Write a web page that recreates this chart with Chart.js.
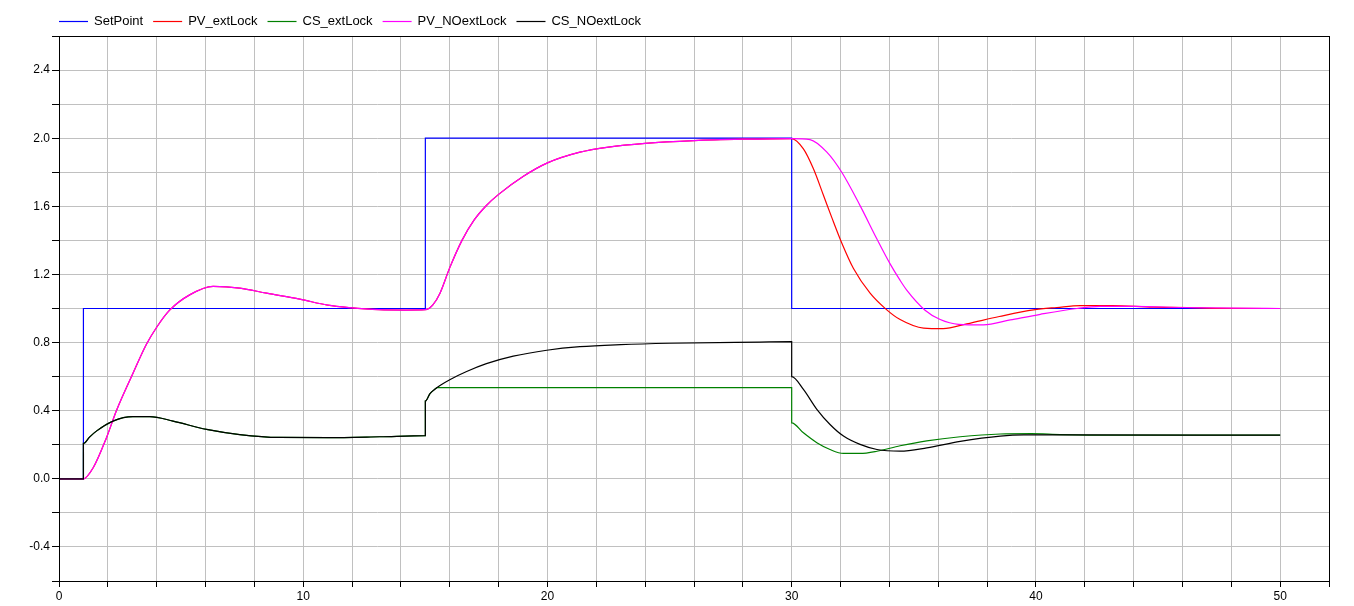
<!DOCTYPE html>
<html>
<head>
<meta charset="utf-8">
<script src="https://cdn.jsdelivr.net/npm/chart.js@4/dist/chart.umd.min.js"></script>
<style>
  html, body { margin: 0; padding: 0; background: #ffffff; }
  #wrap { width: 1354px; height: 606px; }
</style>
</head>
<body>
<div id="wrap"><canvas id="c" width="1354" height="606"></canvas></div>
<script>
// ---- Data (time in s) ----
const seriesNames = ['SetPoint', 'PV_extLock', 'CS_extLock', 'PV_NOextLock', 'CS_NOextLock'];
const seriesColors = ['#0000ff', '#ff0000', '#008000', '#ff00ff', '#000000'];

const setPointT = [0, 1, 1, 15, 15, 30, 30, 50];
const setPointY = [0, 0, 1, 1, 2, 2, 1, 1];

// common process-variable response up to t = 30 (both PV curves coincide)
const pvCommonT = [0, 1, 1.4, 1.94, 2.35, 3.03, 3.58, 4.0, 4.53, 5.35, 6.31, 7.4, 8.5, 9.86, 11.0, 11.9, 13.1, 14.2, 15.0, 15.3, 15.6, 16.0, 16.5, 17.0, 17.5, 18.0, 19.0, 20.0, 21.33, 22.5, 24, 26, 28, 30];
const pvCommonY = [0, 0, 0.065, 0.24, 0.40, 0.62, 0.79, 0.89, 0.99, 1.08, 1.13, 1.12, 1.09, 1.055, 1.02, 1.005, 0.993, 0.991, 0.993, 1.02, 1.09, 1.24, 1.40, 1.52, 1.605, 1.67, 1.775, 1.855, 1.918, 1.948, 1.97, 1.986, 1.994, 1.998];

const pvExtTailT = [30.48, 30.89, 31.3, 31.64, 32.05, 32.53, 33.21, 33.87, 34.44, 35.4, 36.2, 37.17, 38.5, 39.9, 40.86, 41.82, 43.13, 44.8, 46.2, 47.5, 50];
const pvExtTailY = [1.937, 1.82, 1.665, 1.535, 1.385, 1.235, 1.09, 0.995, 0.935, 0.885, 0.882, 0.91, 0.953, 0.992, 1.006, 1.017, 1.017, 1.008, 1.006, 1.001, 1.0];

const pvNoTailT = [30.75, 31.44, 32.05, 32.8, 33.49, 34.03, 34.44, 34.71, 35.46, 36.08, 36.83, 37.85, 38.95, 40.18, 41.68, 42.63, 44.0, 46.0, 48.1, 50];
const pvNoTailY = [1.992, 1.918, 1.80, 1.604, 1.408, 1.262, 1.165, 1.108, 0.99, 0.935, 0.907, 0.904, 0.933, 0.966, 1.0, 1.012, 1.012, 1.006, 1.002, 1.0];

// common control signal up to shortly after the step at t = 15
const csCommonT = [0, 1, 1, 1.25, 1.53, 2.21, 3.03, 3.72, 4.67, 6.04, 7.4, 9, 11, 13.14, 15, 15, 15.19, 15.4];
const csCommonY = [0, 0, 0.208, 0.245, 0.28, 0.339, 0.365, 0.365, 0.339, 0.29, 0.26, 0.243, 0.242, 0.247, 0.253, 0.456, 0.500, 0.527];

const csExtTailT = [15.48, 30, 30, 30.48, 31.03, 31.57, 32.12, 32.8, 33.49, 34.44, 35.53, 36.9, 38.54, 39.8, 41, 43, 50];
const csExtTailY = [0.535, 0.535, 0.329, 0.27, 0.212, 0.172, 0.149, 0.149, 0.162, 0.194, 0.223, 0.247, 0.263, 0.265, 0.26, 0.256, 0.256];

const csNoTailT = [15.6, 16.0, 16.69, 17.5, 18.6, 19.97, 21.33, 23, 25, 28.7, 30, 30, 30.48, 31.03, 31.57, 32.12, 32.8, 33.49, 34.44, 35.53, 36.9, 38.54, 39.5, 41, 50];
const csNoTailY = [0.548, 0.582, 0.630, 0.676, 0.72, 0.755, 0.776, 0.788, 0.796, 0.803, 0.805, 0.6, 0.525, 0.408, 0.319, 0.251, 0.202, 0.172, 0.162, 0.182, 0.22, 0.251, 0.258, 0.258, 0.256];

// axis settings
const xMin = 0, xMax = 52, xStep = 2, xLabelEvery = 10;
const yMin = -0.6, yMax = 2.6, yStep = 0.2, yLabelEvery = 0.4;

// ---- build datasets ----
function pts(t, y) { return t.map((v, i) => ({ x: v, y: y[i] })); }
const seriesData = [
  pts(setPointT, setPointY),
  pts(pvCommonT.concat(pvExtTailT), pvCommonY.concat(pvExtTailY)),
  pts(csCommonT.concat(csExtTailT), csCommonY.concat(csExtTailY)),
  pts(pvCommonT.concat(pvNoTailT), pvCommonY.concat(pvNoTailY)),
  pts(csCommonT.concat(csNoTailT), csCommonY.concat(csNoTailY))
];

const datasets = seriesNames.map((name, i) => ({
  label: name,
  data: seriesData[i],
  borderColor: seriesColors[i],
  backgroundColor: seriesColors[i],
  borderWidth: 1.2,
  pointRadius: 0,
  fill: false,
  tension: 0,
  cubicInterpolationMode: i === 0 ? 'default' : 'monotone',
  order: seriesNames.length - i
}));

const FONT = "'Liberation Sans', Arial, Helvetica, sans-serif";

const framePlugin = {
  id: 'frame',
  afterDraw(chart) {
    const { ctx, chartArea: a } = chart;
    ctx.save();
    ctx.strokeStyle = '#000';
    ctx.lineWidth = 1;
    ctx.strokeRect(Math.round(a.left) + 0.5, Math.round(a.top) + 0.5,
      Math.round(a.right) - Math.round(a.left), Math.round(a.bottom) - Math.round(a.top));
    ctx.restore();
  }
};

const legendPlugin = {
  id: 'lineLegend',
  afterDraw(chart) {
    const ctx = chart.ctx;
    ctx.save();
    ctx.font = '13px ' + FONT;
    ctx.textBaseline = 'middle';
    ctx.textAlign = 'left';
    let x = 59;
    const y = 21;
    chart.data.datasets.forEach(ds => {
      ctx.strokeStyle = ds.borderColor;
      ctx.lineWidth = 1.2;
      ctx.beginPath();
      ctx.moveTo(x, y + 0.5);
      ctx.lineTo(x + 29, y + 0.5);
      ctx.stroke();
      ctx.fillStyle = '#000';
      ctx.fillText(ds.label, x + 35, y);
      x += 35 + ctx.measureText(ds.label).width + 10;
    });
    ctx.restore();
  }
};

new Chart(document.getElementById('c'), {
  type: 'line',
  data: { datasets },
  options: {
    responsive: false,
    animation: false,
    parsing: false,
    layout: { padding: { top: 36, right: 25, left: 0, bottom: 0 } },
    plugins: { legend: { display: false }, tooltip: { enabled: false } },
    scales: {
      x: {
        type: 'linear', min: xMin, max: xMax,
        afterFit(s) { s.height = 25; },
        border: { display: true, color: '#000', width: 1 },
        grid: { color: '#c0c0c0', lineWidth: 1, tickColor: '#000', tickLength: 6, drawTicks: true },
        ticks: {
          stepSize: xStep, autoSkip: false, maxRotation: 0, padding: 2,
          color: '#000', font: { family: FONT, size: 12 },
          callback: v => (Math.abs(v % xLabelEvery) < 1e-9 ? String(Math.round(v)) : '')
        }
      },
      y: {
        type: 'linear', min: yMin, max: yMax,
        afterFit(s) { s.width = 59; },
        border: { display: true, color: '#000', width: 1 },
        grid: { color: '#c0c0c0', lineWidth: 1, tickColor: '#000', tickLength: 7, drawTicks: true },
        ticks: {
          stepSize: yStep, autoSkip: false, maxTicksLimit: 100, padding: 2,
          color: '#000', font: { family: FONT, size: 12 },
          callback: v => {
            const k = Math.round(v / yLabelEvery);
            if (Math.abs(k * yLabelEvery - v) > 1e-6) return '';
            if (v <= yMin + 1e-6 || v >= yMax - 1e-6) return '';
            return (k * yLabelEvery).toFixed(1);
          }
        }
      }
    }
  },
  plugins: [framePlugin, legendPlugin]
});
</script>
</body>
</html>
